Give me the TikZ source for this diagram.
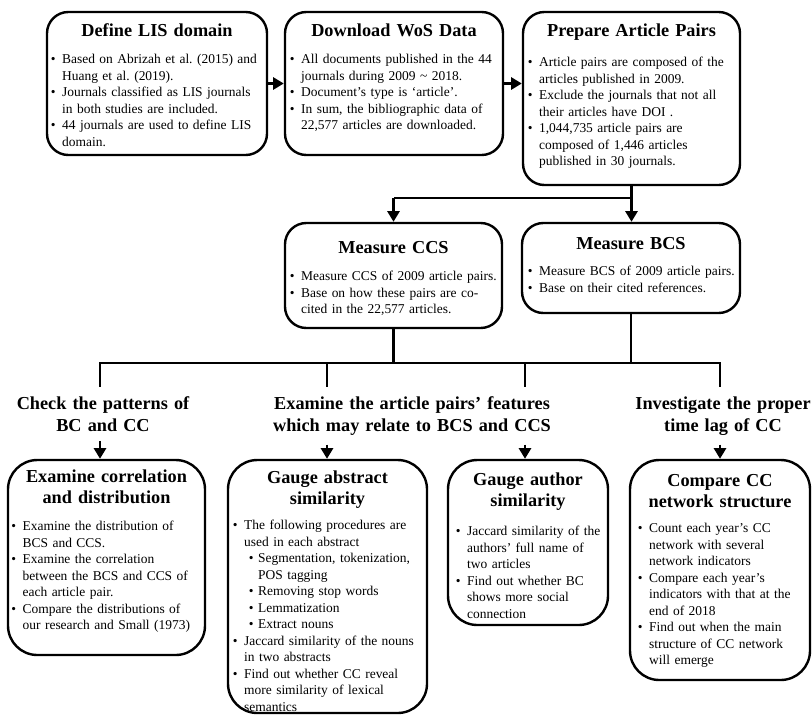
\documentclass[tikz,border=0pt]{standalone}
\usepackage{fontspec}
\setmainfont{Liberation Serif}
\usetikzlibrary{arrows.meta}
\frenchspacing
\newcommand\bul{\par\hangindent=8.5pt\hangafter=1\noindent\makebox[8.5pt][l]{\textbullet}}
\newcommand\subbul{\par\hangindent=19pt\hangafter=1\noindent\hspace*{12pt}\makebox[7pt][l]{\textbullet}}
\tikzset{
  topbox/.style={draw, line width=1.8pt, rounded corners=16pt, inner sep=0pt, fill=white},
  botbox/.style={draw, line width=1.8pt, rounded corners=22pt, inner sep=0pt, fill=white},
  ttl/.style={anchor=base, align=center, inner sep=0pt, font=\fontsize{13.7}{15.75}\selectfont\bfseries},
  bodytxt/.style={anchor=base west, inner sep=0pt, text width=220pt, align=left,
    font=\fontsize{10.1}{12.4}\selectfont\frenchspacing},
  hd/.style={anchor=base, align=center, inner xsep=0pt, inner ysep=7pt, font=\fontsize{13.7}{16.5}\selectfont\bfseries},
  ln/.style={line width=2.2pt},
  arr/.style={line width=2.2pt, -{Triangle[length=8pt,width=9pt]}},
}
\begin{document}
\begin{tikzpicture}[x=0.75pt,y=-0.75pt]
\useasboundingbox (0,0) rectangle (812,714);
% top row boxes
\node[topbox, minimum width=165pt, minimum height=107.25pt] (b1) at (157,83.5) {};
\node[topbox, minimum width=163.5pt, minimum height=107.25pt] (b2) at (394,83.5) {};
\node[topbox, minimum width=162.75pt, minimum height=129.75pt] (b3) at (631.5,98.5) {};
\node[ttl, text width=165pt] (t1) at (157,36) {Define LIS domain};
\node[ttl, text width=163.5pt] (t2) at (394,36) {Download WoS Data};
\node[ttl, text width=162.75pt] (t3) at (631.5,36) {Prepare Article Pairs};
\node[bodytxt] (x1) at (50.5,47) {\bul Based on Abrizah et al. (2015) and\newline Huang et al. (2019).
\bul Journals classified as LIS journals\newline in both studies are included.
\bul 44 journals are used to define LIS\newline domain.\par};
\node[bodytxt] (x2) at (289.5,47) {\bul All documents published in the 44\newline journals during 2009 \textasciitilde{} 2018.
\bul Document’s type is ‘article’.
\bul In sum, the bibliographic data of\newline 22,577 articles are downloaded.\par};
\node[bodytxt] (x3) at (527.5,50) {\bul Article pairs are composed of the\newline articles published in 2009.
\bul Exclude the journals that not all\newline their articles have DOI .
\bul 1,044,735 article pairs are\newline composed of 1,446 articles\newline published in 30 journals.\par};
% measure boxes
\node[topbox, minimum width=162.75pt, minimum height=78.75pt] (ccs) at (393.5,275.5) {};
\node[topbox, minimum width=163.5pt, minimum height=67.5pt] (bcs) at (631,268) {};
\node[ttl, text width=162.75pt] (tc) at (393.5,253) {Measure CCS};
\node[ttl, text width=163.5pt] (tb) at (631,249) {Measure BCS};
\node[bodytxt] (xc) at (289.5,264) {\bul Measure CCS of 2009 article pairs.
\bul Base on how these pairs are co-\newline cited in the 22,577 articles.\par};
\node[bodytxt] (xb) at (527.5,259) {\bul Measure BCS of 2009 article pairs.
\bul Base on their cited references.\par};
% headings
\node[hd, text width=150pt] (h1) at (103,409) {Check the patterns of\\BC and CC};
\node[hd, text width=215pt] (h2) at (412,409) {Examine the article pairs’ features\\which may relate to BCS and CCS};
\node[hd, text width=150pt] (h3) at (723,409) {Investigate the proper\\time lag of CC};
% bottom boxes
\node[botbox, minimum width=147.75pt, minimum height=146.25pt] (A) at (106.5,557.5) {};
\node[botbox, minimum width=149.25pt, minimum height=189.75pt] (B) at (327.5,586.5) {};
\node[botbox, minimum width=120pt, minimum height=123.75pt] (C) at (528,542.5) {};
\node[botbox, minimum width=135pt, minimum height=165pt] (D) at (720,570) {};
\node[ttl, text width=147.75pt] (tA) at (106.5,482) {Examine correlation\\and distribution};
\node[ttl, text width=149.25pt] (tB) at (327.5,483) {Gauge abstract\\similarity};
\node[ttl, text width=120pt] (tC) at (528,485) {Gauge author\\similarity};
\node[ttl, text width=135pt] (tD) at (720,486) {Compare CC\\network structure};
\node[bodytxt] (xA) at (11,514) {\bul Examine the distribution of\newline BCS and CCS.
\bul Examine the correlation\newline between the BCS and CCS of\newline each article pair.
\bul Compare the distributions of\newline our research and Small (1973)\par};
\node[bodytxt] (xB) at (232.5,513) {\bul The following procedures are\newline used in each abstract
\subbul Segmentation, tokenization,\newline POS tagging
\subbul Removing stop words
\subbul Lemmatization
\subbul Extract nouns
\bul Jaccard similarity of the nouns\newline in two abstracts
\bul Find out whether CC reveal\newline more similarity of lexical\newline semantics\par};
\node[bodytxt] (xC) at (455.5,519) {\bul Jaccard similarity of the\newline authors’ full name of\newline two articles
\bul Find out whether BC\newline shows more social\newline connection\par};
\node[bodytxt] (xD) at (637.5,516) {\bul Count each year’s CC\newline network with several\newline network indicators
\bul Compare each year’s\newline indicators with that at the\newline end of 2018
\bul Find out when the main\newline structure of CC network\newline will emerge\par};
% connectors top
\draw[arr] (b1.east) -- (b2.west);
\draw[arr] (b2.east) -- (b2.east -| b3.west);
\coordinate (j1) at (631.5,198);
\draw[arr] (b3.south) -- (b3.south |- bcs.north);
\draw[ln] (j1) -- (j1 -| ccs.north);
\draw[arr] (j1 -| ccs.north) -- (ccs.north);
% connectors middle
\coordinate (ja) at (100,363);
\coordinate (jb) at (327,363);
\coordinate (jc) at (525,363);
\coordinate (jd) at (720,363);
\draw[ln] (ccs.south) -- (ccs.south |- ja);
\draw[ln] (bcs.south) -- (bcs.south |- ja);
\draw[ln, line cap=rect] (ja) -- (jd);
\draw[ln] (ja) -- (ja |- h1.north);
\draw[ln] (jb) -- (jb |- h2.north);
\draw[ln] (jc) -- (jc |- h2.north);
\draw[ln] (jd) -- (jd |- h3.north);
\draw[arr] (ja |- h1.south) -- (ja |- A.north);
\draw[arr] (jb |- h2.south) -- (jb |- B.north);
\draw[arr] (jc |- h2.south) -- (jc |- C.north);
\draw[arr] (jd |- h3.south) -- (jd |- D.north);
\end{tikzpicture}
\end{document}
